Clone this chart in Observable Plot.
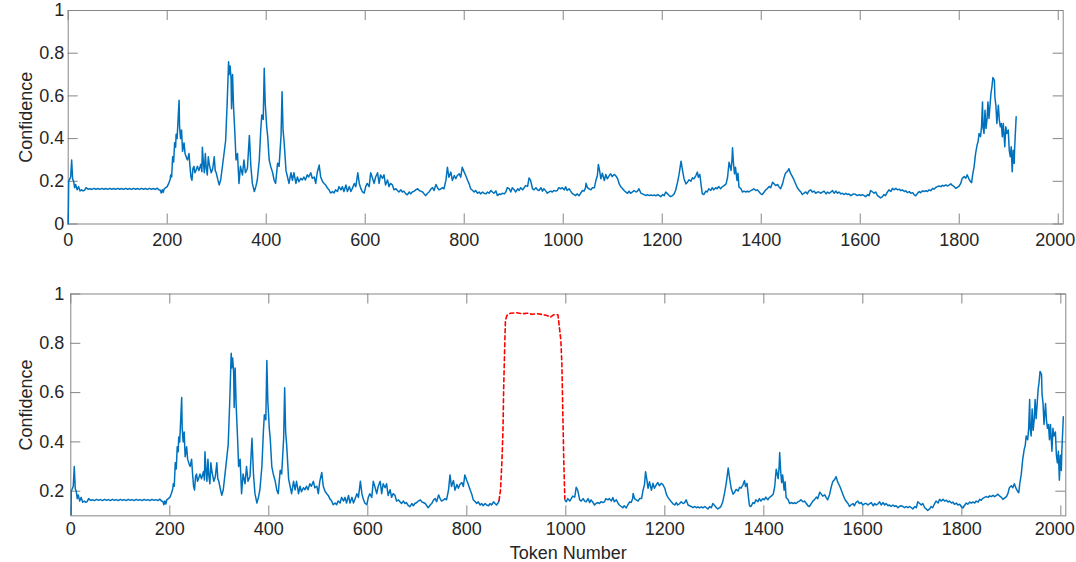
<!DOCTYPE html>
<html>
<head>
<meta charset="utf-8">
<script src="https://cdn.jsdelivr.net/npm/d3@7"></script>
<script src="https://cdn.jsdelivr.net/npm/@observablehq/plot@0.6"></script>
<style>
  html, body { margin: 0; padding: 0; background: #fff; }
  svg { display: block; }
</style>
</head>
<body>
<script>
// ---- Data (token number, confidence) ----
const xTicks = [0, 200, 400, 600, 800, 1000, 1200, 1400, 1600, 1800, 2000];
const yTicksTop = [0, 0.2, 0.4, 0.6, 0.8, 1];
const yTicksBottom = [0.2, 0.4, 0.6, 0.8, 1];
const xLabel = "Token Number";
const yLabel = "Confidence";

// Original document confidence (top panel)
const topSeries = [
[0,0],[1,0.2],[3,0.21],[5,0.22],[7,0.30],[9,0.21],[11,0.2],[13,0.17],[15,0.185],[18,0.16],[21,0.175],[24,0.155],[27,0.16],[30,0.155],[33,0.158],[36,0.17],
[40,0.163],[44,0.165],[48,0.162],[52,0.167],[56,0.163],[60,0.166],[64,0.162],[68,0.167],[72,0.163],[76,0.166],[80,0.162],[84,0.167],[88,0.163],[92,0.166],[96,0.162],[100,0.167],
[104,0.163],[108,0.166],[112,0.162],[116,0.167],[120,0.163],[124,0.166],[128,0.162],[132,0.167],[136,0.163],[140,0.166],[144,0.162],[148,0.167],[152,0.163],[156,0.166],[160,0.162],
[164,0.167],[168,0.163],[172,0.166],[176,0.162],[180,0.168],[183,0.16],[186,0.158],[188,0.145],[190,0.16],[192,0.148],[194,0.165],[197,0.17],[200,0.175],[203,0.19],[206,0.21],
[207,0.23],[209,0.22],[211,0.315],[213,0.29],[215,0.38],[217,0.36],[218,0.42],[220,0.40],[222,0.49],[224,0.58],[225,0.455],[227,0.40],[229,0.44],[231,0.34],[234,0.38],[236,0.33],
[239,0.31],[241,0.30],[244,0.33],[246,0.27],[248,0.22],[250,0.205],[252,0.26],[254,0.27],[256,0.24],[258,0.25],[261,0.27],[264,0.25],[268,0.28],[270,0.245],[271,0.36],[273,0.29],
[275,0.24],[277,0.33],[279,0.26],[281,0.23],[283,0.315],[285,0.28],[286,0.27],[289,0.24],[292,0.26],[295,0.315],[297,0.25],[299,0.24],[302,0.21],[305,0.183],[308,0.206],[311,0.26],
[314,0.315],[318,0.39],[321,0.56],[324,0.76],[325,0.70],[327,0.74],[329,0.68],[330,0.54],[332,0.70],[334,0.55],[337,0.41],[339,0.30],[342,0.33],[345,0.19],[348,0.27],[352,0.23],
[355,0.30],[358,0.24],[362,0.26],[366,0.415],[369,0.27],[372,0.19],[376,0.152],[379,0.175],[382,0.206],[386,0.30],[389,0.44],[391,0.51],[394,0.49],[396,0.73],[398,0.565],[401,0.455],
[403,0.41],[406,0.30],[409,0.27],[413,0.24],[416,0.205],[419,0.19],[423,0.285],[426,0.27],[430,0.415],[432,0.62],[434,0.44],[436,0.39],[440,0.25],[443,0.22],[446,0.19],[450,0.24],
[453,0.205],[456,0.24],[460,0.19],[463,0.22],[466,0.198],[470,0.214],[473,0.206],[476,0.22],[479,0.206],[483,0.23],[486,0.22],[490,0.24],[493,0.214],[497,0.22],[500,0.19],[503,0.24],
[507,0.276],[510,0.22],[514,0.198],[517,0.19],[520,0.183],[524,0.167],[527,0.16],[530,0.145],[534,0.152],[537,0.145],[540,0.16],[544,0.152],[547,0.175],[551,0.16],[554,0.175],[557,0.152],
[561,0.183],[564,0.152],[568,0.175],[571,0.152],[574,0.167],[578,0.19],[581,0.175],[585,0.24],[588,0.19],[591,0.167],[594,0.152],[598,0.145],[601,0.175],[604,0.19],[608,0.175],[611,0.24],
[614,0.22],[618,0.19],[621,0.22],[625,0.24],[628,0.19],[631,0.23],[635,0.214],[638,0.23],[641,0.183],[645,0.206],[648,0.175],[651,0.19],[655,0.183],[658,0.16],[662,0.165],[665,0.157],
[668,0.15],[672,0.16],[675,0.15],[678,0.154],[682,0.141],[685,0.137],[689,0.15],[692,0.141],[695,0.15],[699,0.154],[702,0.16],[706,0.165],[709,0.157],[712,0.154],[716,0.15],[719,0.141],
[722,0.133],[726,0.144],[729,0.15],[733,0.165],[736,0.17],[739,0.157],[743,0.185],[746,0.17],[749,0.16],[753,0.165],[756,0.17],[759,0.165],[763,0.204],[766,0.266],[769,0.219],[773,0.243],
[776,0.204],[780,0.227],[783,0.212],[786,0.227],[790,0.235],[793,0.219],[796,0.266],[800,0.243],[803,0.227],[807,0.204],[810,0.188],[813,0.165],[817,0.157],[820,0.15],[823,0.157],[827,0.144],
[830,0.15],[833,0.141],[837,0.15],[840,0.144],[844,0.141],[847,0.15],[850,0.144],[854,0.157],[857,0.15],[860,0.144],[864,0.155],[867,0.133],[871,0.141],[874,0.138],[877,0.144],[881,0.141],
[884,0.15],[887,0.17],[891,0.165],[894,0.15],[897,0.17],[901,0.16],[904,0.15],[908,0.165],[911,0.157],[914,0.17],[918,0.16],[921,0.17],[924,0.18],[928,0.176],[931,0.216],[934,0.204],
[938,0.165],[941,0.16],[945,0.17],[948,0.16],[951,0.157],[955,0.17],[958,0.154],[961,0.165],[965,0.154],[968,0.144],[971,0.15],[975,0.154],[978,0.15],[981,0.157],[985,0.154],[988,0.157],
[991,0.17],[995,0.165],[998,0.17],[1002,0.16],[1005,0.174],[1008,0.157],[1012,0.165],[1015,0.154],[1018,0.144],[1022,0.138],[1025,0.133],[1028,0.141],[1032,0.132],[1035,0.144],[1039,0.157],
[1042,0.154],[1045,0.17],[1046,0.191],[1049,0.17],[1052,0.165],[1056,0.16],[1059,0.17],[1063,0.17],[1066,0.204],[1069,0.227],[1071,0.279],[1074,0.243],[1076,0.212],[1079,0.238],[1083,0.204],
[1086,0.232],[1089,0.212],[1093,0.227],[1096,0.235],[1099,0.222],[1103,0.232],[1106,0.227],[1110,0.212],[1113,0.188],[1116,0.176],[1120,0.165],[1123,0.157],[1126,0.15],[1130,0.144],[1133,0.154],
[1136,0.144],[1140,0.15],[1143,0.157],[1147,0.15],[1150,0.154],[1153,0.165],[1157,0.144],[1160,0.141],[1163,0.138],[1167,0.133],[1170,0.138],[1174,0.133],[1177,0.136],[1180,0.133],[1184,0.136],
[1187,0.132],[1191,0.138],[1194,0.133],[1197,0.128],[1201,0.138],[1204,0.133],[1207,0.15],[1211,0.141],[1214,0.133],[1217,0.128],[1221,0.133],[1224,0.141],[1227,0.157],[1231,0.196],[1234,0.232],
[1238,0.294],[1241,0.251],[1244,0.212],[1248,0.188],[1251,0.196],[1254,0.207],[1258,0.201],[1261,0.216],[1264,0.212],[1268,0.227],[1271,0.243],[1273,0.219],[1276,0.232],[1279,0.174],[1281,0.141],
[1284,0.138],[1288,0.154],[1291,0.15],[1294,0.165],[1298,0.157],[1301,0.17],[1304,0.16],[1308,0.17],[1311,0.165],[1314,0.176],[1318,0.165],[1321,0.174],[1325,0.18],[1329,0.188],[1332,0.219],
[1335,0.289],[1339,0.251],[1341,0.304],[1342,0.357],[1344,0.282],[1346,0.235],[1348,0.266],[1351,0.204],[1353,0.238],[1355,0.174],[1359,0.165],[1362,0.15],[1365,0.154],[1369,0.15],[1372,0.154],
[1375,0.15],[1379,0.157],[1382,0.16],[1385,0.165],[1389,0.157],[1392,0.16],[1396,0.15],[1399,0.141],[1402,0.138],[1406,0.15],[1409,0.16],[1412,0.165],[1416,0.176],[1419,0.17],[1423,0.196],
[1426,0.188],[1429,0.18],[1433,0.185],[1436,0.174],[1439,0.165],[1443,0.188],[1446,0.216],[1449,0.238],[1453,0.247],[1456,0.259],[1459,0.238],[1463,0.222],[1466,0.207],[1469,0.191],[1473,0.17],
[1476,0.16],[1480,0.15],[1483,0.138],[1486,0.144],[1490,0.15],[1493,0.141],[1496,0.154],[1500,0.16],[1503,0.15],[1507,0.154],[1510,0.144],[1514,0.15],[1517,0.15],[1520,0.144],[1524,0.15],
[1527,0.154],[1531,0.141],[1534,0.15],[1537,0.144],[1541,0.15],[1544,0.157],[1547,0.144],[1551,0.154],[1554,0.144],[1557,0.15],[1561,0.141],[1564,0.144],[1567,0.138],[1571,0.144],[1574,0.138],
[1577,0.141],[1581,0.133],[1584,0.138],[1587,0.141],[1591,0.138],[1594,0.133],[1598,0.138],[1601,0.133],[1604,0.138],[1608,0.133],[1611,0.128],[1615,0.138],[1618,0.133],[1621,0.157],[1625,0.15],
[1628,0.144],[1631,0.15],[1635,0.133],[1638,0.128],[1641,0.122],[1645,0.128],[1648,0.138],[1651,0.133],[1655,0.15],[1658,0.16],[1662,0.152],[1665,0.167],[1668,0.16],[1672,0.167],[1675,0.16],
[1679,0.163],[1682,0.156],[1685,0.16],[1689,0.152],[1692,0.156],[1695,0.147],[1699,0.152],[1702,0.144],[1706,0.147],[1709,0.136],[1712,0.132],[1716,0.144],[1719,0.152],[1722,0.147],[1726,0.156],
[1729,0.152],[1733,0.156],[1736,0.152],[1739,0.16],[1743,0.156],[1746,0.167],[1749,0.163],[1753,0.172],[1756,0.175],[1759,0.178],[1763,0.175],[1766,0.181],[1769,0.178],[1773,0.183],[1776,0.178],
[1780,0.183],[1783,0.188],[1786,0.181],[1790,0.175],[1793,0.167],[1796,0.172],[1800,0.178],[1803,0.19],[1806,0.214],[1810,0.222],[1813,0.214],[1816,0.23],[1820,0.209],[1823,0.198],[1825,0.194],
[1827,0.23],[1830,0.268],[1833,0.33],[1836,0.37],[1838,0.385],[1840,0.424],[1843,0.409],[1845,0.455],[1847,0.572],[1848,0.455],[1850,0.424],[1852,0.533],[1854,0.447],[1856,0.486],[1858,0.572],
[1860,0.494],[1862,0.549],[1864,0.611],[1866,0.642],[1868,0.686],[1871,0.673],[1872,0.595],[1874,0.556],[1876,0.471],[1879,0.556],[1881,0.486],[1883,0.455],[1885,0.471],[1887,0.409],[1889,0.471],
[1892,0.362],[1894,0.455],[1896,0.424],[1899,0.44],[1901,0.346],[1903,0.315],[1905,0.362],[1907,0.245],[1909,0.346],[1911,0.284],[1912,0.362],[1915,0.502]
];

// Bottom panel: same document up to token 865, then an inserted high-confidence passage (red dashed),
// then the rest of the original document, which starts 90 tokens later.
const bottomBreakBefore = 865;   // last original token before the insertion
const bottomResume = 908;        // original token at which the document resumes
const insertShift = 90;          // tokens added by the insertion
const insertedSeries = [
[865,0.162],[868,0.203],[871,0.325],[873,0.446],[874.5,0.622],[876.5,0.784],[878,0.893],[881,0.913],[888,0.922],[901,0.924],
[912,0.92],[922,0.922],[932,0.918],[942,0.92],[952,0.917],[962,0.913],[969,0.906],[976,0.916],[984,0.916],[987,0.865],
[990,0.811],[992,0.717],[994,0.514],[996,0.311],[998,0.169]
];

// ---- Build tables ----
const toRows = (arr, seg) => arr.map(([t, v]) => ({t, v, seg}));
const topRows = toRows(topSeries, "a");
const bottomBefore = toRows(topSeries.filter(([t]) => t < bottomBreakBefore), "a");
bottomBefore.push({t: insertedSeries[0][0], v: insertedSeries[0][1], seg: "a"});
const bottomAfter = topSeries.filter(([t]) => t >= bottomResume).map(([t, v]) => ({t: t + insertShift, v, seg: "b"}));
const bottomBlue = bottomBefore.concat(bottomAfter);
const insertedRows = toRows(insertedSeries, "r");

// ---- Styling ----
const BLUE = "#0072BD";
const RED = "#FF0000";
const AXIS = "#858585";
const TEXT = "#262626";
const FONT = "'Liberation Sans', Arial, Helvetica, sans-serif";
const FS = 18;
const TICK = 10;
const W = 1076;

function panel({height, mt, mb, ml, mr, yDomain, yTicks, lines, xPad, yPad, lastDx, xLabelText}) {
  const innerW = W - ml - mr;
  const innerH = height - mt - mb;
  const fmt = d => String(d);
  const marks = [
    Plot.frame({stroke: AXIS, strokeWidth: 1}),
    Plot.tickX(xTicks, {x: d => d, stroke: AXIS, insetTop: innerH - TICK}),
    Plot.tickX(xTicks, {x: d => d, stroke: AXIS, insetBottom: innerH - TICK}),
    Plot.tickY(yTicks, {y: d => d, stroke: AXIS, insetRight: innerW - TICK}),
    Plot.tickY(yTicks, {y: d => d, stroke: AXIS, insetLeft: innerW - TICK}),
    Plot.axisX(xTicks.slice(0, -1), {tickSize: 0, tickPadding: xPad, tickFormat: fmt, label: null, fontSize: FS, fill: TEXT}),
    // last label nudged left so it stays inside the page
    Plot.axisX(xTicks.slice(-1), {tickSize: 0, tickPadding: xPad, tickFormat: fmt, label: null, fontSize: FS, fill: TEXT, dx: lastDx}),
    Plot.axisY(yTicks, {tickSize: 0, tickPadding: yPad, tickFormat: fmt, label: null, fontSize: FS, fill: TEXT}),
    Plot.text([yLabel], {frameAnchor: "left", rotate: -90, dx: -(ml - 26), textAnchor: "middle", lineAnchor: "middle", fontSize: FS, fill: TEXT}),
    ...lines
  ];
  if (xLabelText) {
    marks.push(Plot.text([xLabelText], {frameAnchor: "bottom", dy: 43.5, lineAnchor: "bottom", textAnchor: "middle", fontSize: FS, fill: TEXT}));
  }
  return Plot.plot({
    width: W, height,
    marginTop: mt, marginBottom: mb, marginLeft: ml, marginRight: mr,
    x: {domain: [0, 2010]},
    y: {domain: yDomain},
    style: {fontFamily: FONT, fontSize: FS + "px", color: TEXT, background: "#fff", overflow: "visible"},
    marks
  });
}

const topChart = panel({
  height: 280, mt: 10, mb: 56.5, ml: 67.7, mr: 13.3,
  yDomain: [0, 1], yTicks: yTicksTop, xPad: 9, yPad: 4, lastDx: -3,
  lines: [Plot.lineY(topRows, {x: "t", y: "v", stroke: BLUE, strokeWidth: 1.5})]
});

const bottomChart = panel({
  height: 282, mt: 13.5, mb: 46.65, ml: 70.3, mr: 10.7,
  yDomain: [0.1, 1], yTicks: yTicksBottom, xPad: 6, yPad: 6.5, lastDx: -6,
  xLabelText: xLabel,
  lines: [
    Plot.lineY(bottomBlue, {x: "t", y: "v", z: "seg", stroke: BLUE, strokeWidth: 1.5, clip: true}),
    Plot.lineY(insertedRows, {x: "t", y: "v", stroke: RED, strokeWidth: 1.6, strokeDasharray: "4,3", clip: true})
  ]
});

document.body.appendChild(topChart);
document.body.appendChild(bottomChart);
</script>
</body>
</html>
